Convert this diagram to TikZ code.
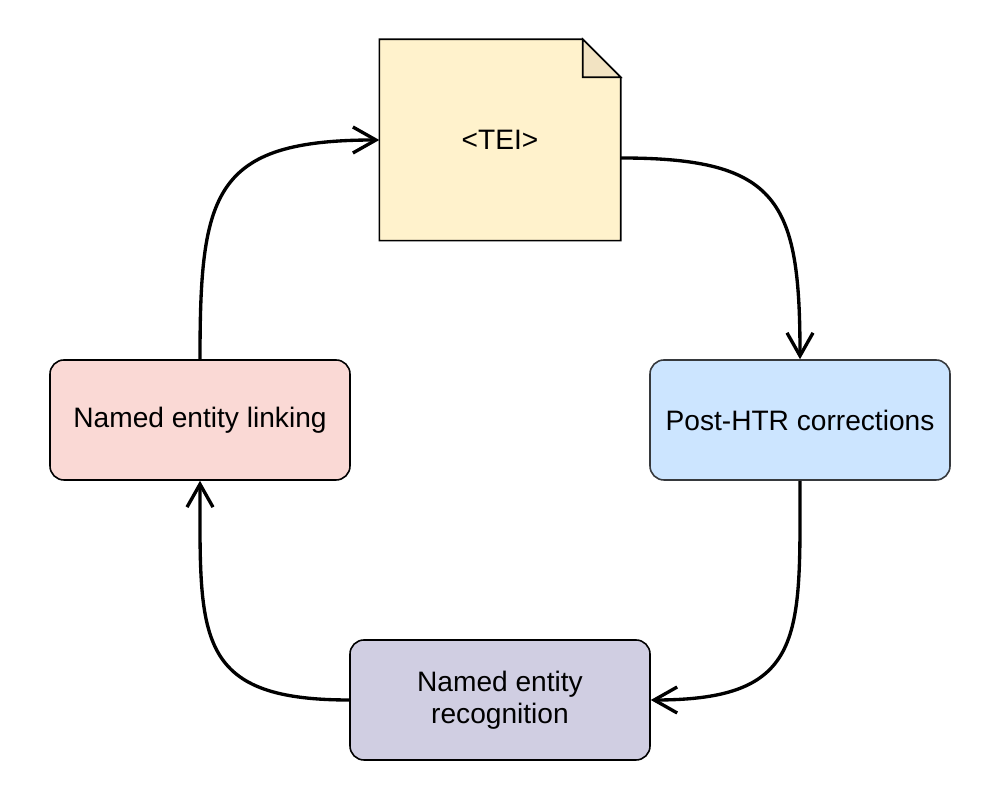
\documentclass[tikz,border=0pt]{standalone}
\usepackage{fontspec}
\setmainfont{Liberation Sans}
\usetikzlibrary{arrows.meta, positioning, backgrounds}

\definecolor{teifill}{HTML}{FFF2CC}
\definecolor{foldfill}{HTML}{F2E3C2}
\definecolor{htrfill}{HTML}{CCE5FF}
\definecolor{htrline}{HTML}{36393D}
\definecolor{nerfill}{HTML}{D0CEE2}
\definecolor{nelfill}{HTML}{FAD9D5}

\begin{document}
\begin{tikzpicture}[thick]

    % Define styles
    \tikzset{
        stage/.style = {draw, line width=0.9pt, rounded corners=0.28cm, minimum width=6cm,
            minimum height=2.4cm, align=center, font=\fontsize{16}{18.5}\selectfont},
        flow/.style = {line width=1.9pt, -{Straight Barb[length=4.6mm, width=5.2mm, line width=1.9pt]}}
    }

    % Page size
    \useasboundingbox (0,0) rectangle (20,16);

    % TEI document
    \node[minimum width=4.8cm, minimum height=4cm, font=\fontsize{16}{18.5}\selectfont] (tei) at (10,13.2) {<TEI>};
    \begin{scope}[on background layer]
        \draw[fill=teifill, line width=0.9pt] (tei.south west) -- (tei.north west)
            -- ([xshift=-0.76cm]tei.north east) -- ([yshift=-0.76cm]tei.north east)
            -- (tei.south east) -- cycle;
        \draw[fill=foldfill, line width=0.9pt] ([xshift=-0.76cm]tei.north east)
            -- ([xshift=-0.76cm, yshift=-0.76cm]tei.north east)
            -- ([yshift=-0.76cm]tei.north east) -- cycle;
    \end{scope}
    \coordinate (teiout) at ([yshift=-0.36cm]tei.east);

    % Processing stages
    \node[stage, fill=htrfill, draw=htrline] (htr) at (16,7.6) {Post-HTR corrections};
    \node[stage, fill=nerfill] (ner) at (10,2) {Named entity\\recognition};
    \node[stage, fill=nelfill] (nel) at (4,7.6) {Named entity linking};

    % Cycle
    \draw[flow] (teiout) to[out=0, in=90, looseness=1.5] (htr.north);
    \draw[flow] (htr.south) to[out=-90, in=0, looseness=1.5] (ner.east);
    \draw[flow] (ner.west) to[out=180, in=-90, looseness=1.5] (nel.south);
    \draw[flow] (nel.north) to[out=90, in=180, looseness=1.5] (tei.west);

\end{tikzpicture}
\end{document}
